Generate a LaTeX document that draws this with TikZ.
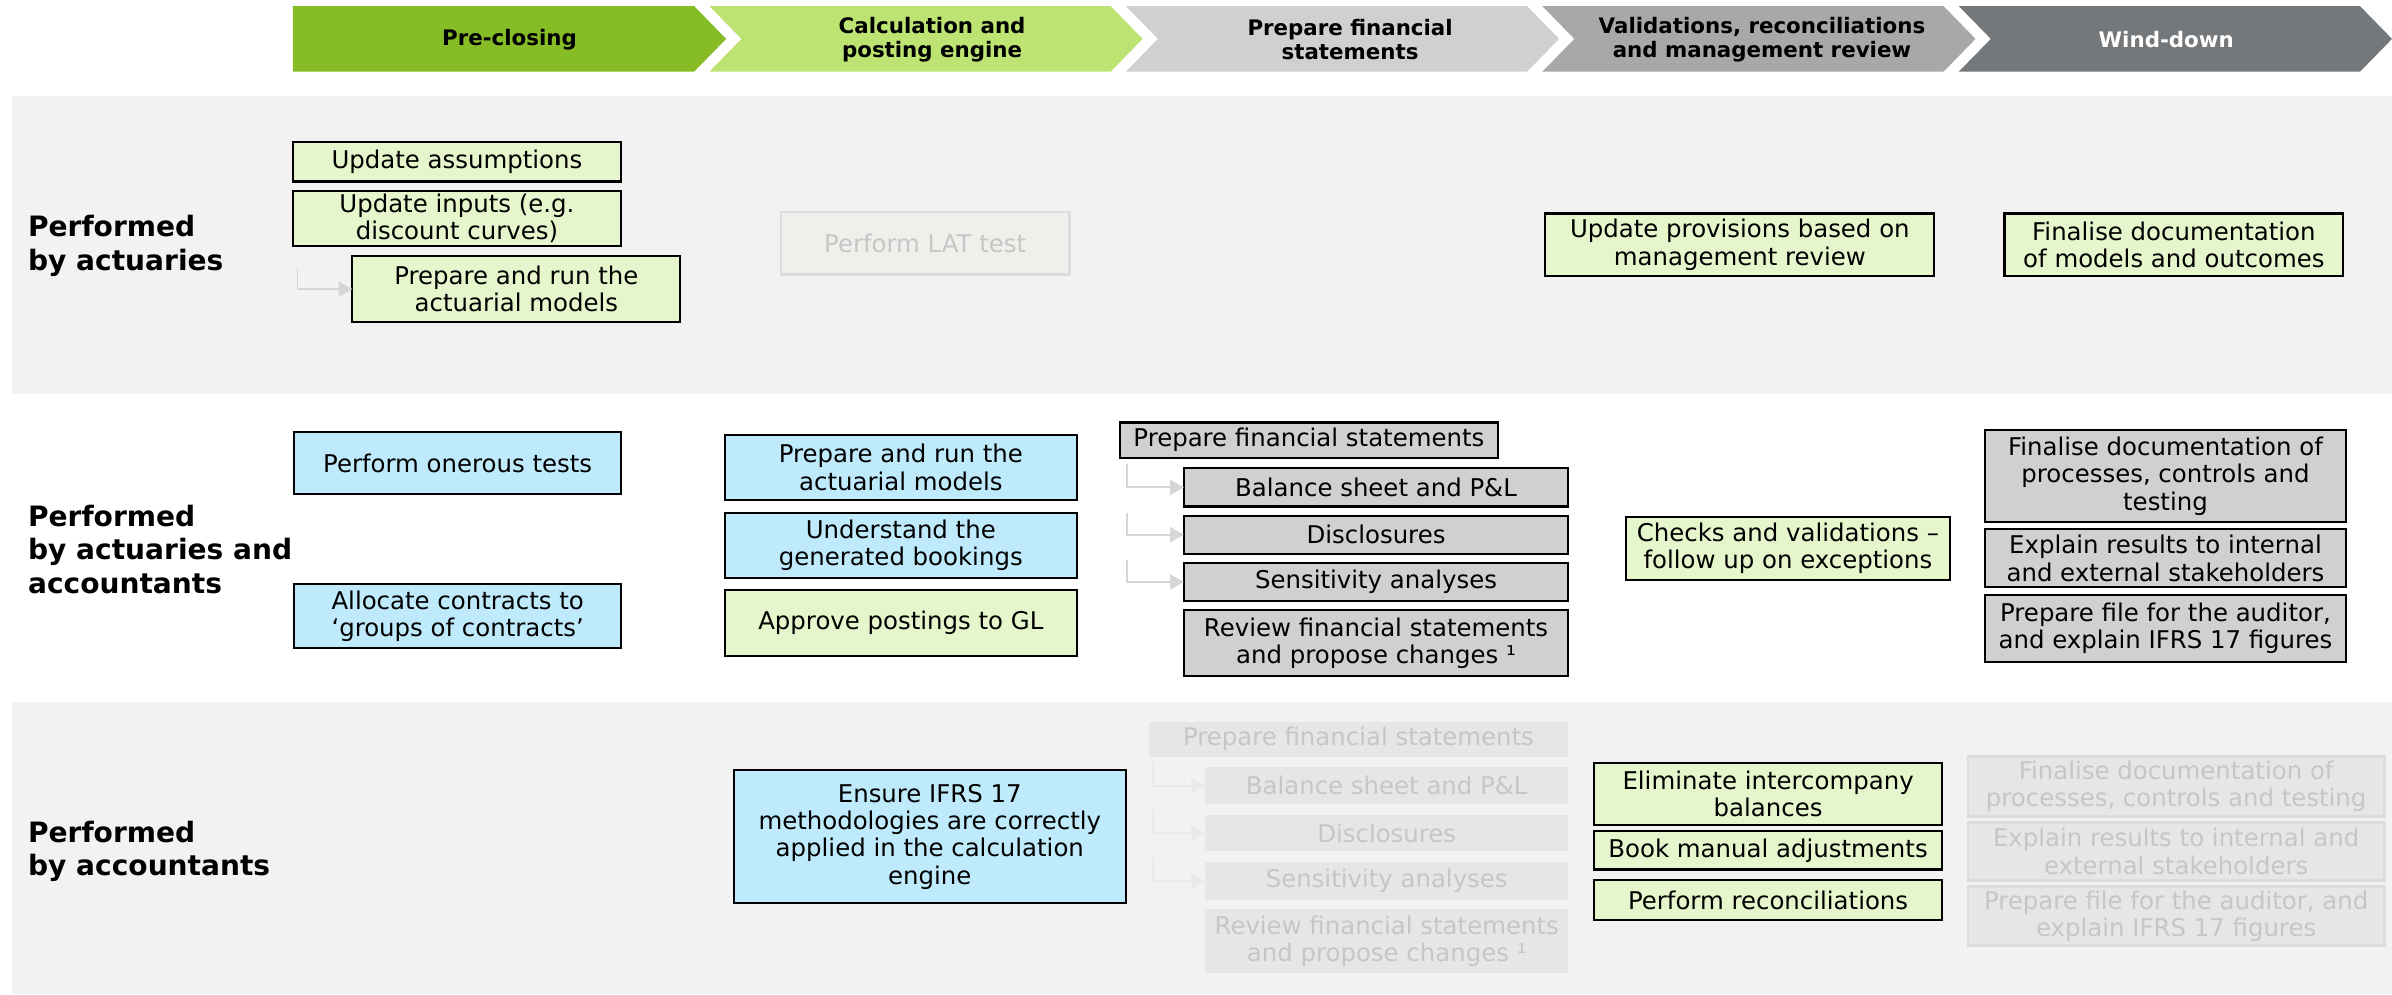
\documentclass[tikz,border=0pt]{standalone}
\usepackage{fontspec}
\setmainfont{DejaVu Sans}
\usetikzlibrary{arrows.meta,calc}
\definecolor{chA}{HTML}{86BC25}
\definecolor{chB}{HTML}{BDE373}
\definecolor{chC}{HTML}{D0D0CE}
\definecolor{chD}{HTML}{A7A8AA}
\definecolor{chE}{HTML}{75787B}
\definecolor{band}{HTML}{F2F2F2}
\definecolor{boxgreen}{HTML}{E5F5CC}
\definecolor{boxblue}{HTML}{BEEAFC}
\definecolor{boxgray}{HTML}{D0D0CE}
\definecolor{fadetext}{HTML}{C6C6C6}
\definecolor{fadefill}{HTML}{E6E6E6}
\definecolor{fadeedge}{HTML}{DCDCDC}
\definecolor{latfill}{HTML}{EFF0EC}
\definecolor{arrA}{HTML}{D6D6D6}
\definecolor{arrB}{HTML}{EAEAEA}
\newcommand\bx[7]{\node[#2, minimum width={(#5-#3)*0.5pt}, minimum height={(#6-#4)*0.5pt}] (#1) at ({(#3+#5)/2},{(#4+#6)/2}) {#7};}
\newcommand\chev[5]{\fill[#2] (#1,4) -- ({#1+263},4) -- ({#1+284},25.5) -- ({#1+263},47) -- (#1,47) #3 -- cycle;
  \node[hdr, text=#4] (#5) at ({#1+145},25.5) {};}
\tikzset{
  base/.style={draw=black, line width=0.7pt, inner sep=0pt, outer sep=0pt, align=center, font=\fontsize{8}{9}\selectfont},
  grn/.style={base, fill=boxgreen},
  blu/.style={base, fill=boxblue},
  gry/.style={base, fill=boxgray},
  fadeA/.style={base, draw=fadeedge, line width=0.9pt, fill=latfill, text=fadetext},
  fadeB/.style={base, draw=none, fill=fadefill, text=fadetext},
  fadeC/.style={base, draw=fadeedge, line width=0.9pt, fill=fadefill, text=fadetext},
  hdr/.style={align=center, inner sep=0pt, font=\fontsize{7}{8}\selectfont\bfseries},
  rowlbl/.style={anchor=west, align=left, inner sep=0pt, font=\fontsize{9.2}{11}\selectfont\bfseries},
  arr/.style={draw=arrA, line width=0.6pt, -{Triangle[length=4.5pt,width=5pt]}},
  arrf/.style={draw=arrB, line width=0.6pt, -{Triangle[length=4.5pt,width=5pt]}},
}
\begin{document}
\begin{tikzpicture}[x=0.5pt,y=-0.5pt]
\useasboundingbox[fill=white] (0,0) rectangle (1568,651.6);
% header chevrons
\fill[chA] (192,4) -- (455,4) -- (476,25.5) -- (455,47) -- (192,47) -- cycle;
\fill[chB] (465,4) -- (728,4) -- (749,25.5) -- (728,47) -- (465,47) -- (486,25.5) -- cycle;
\fill[chC] (738,4) -- (1001,4) -- (1022,25.5) -- (1001,47) -- (738,47) -- (759,25.5) -- cycle;
\fill[chD] (1011,4) -- (1274,4) -- (1295,25.5) -- (1274,47) -- (1011,47) -- (1032,25.5) -- cycle;
\fill[chE] (1284,4) -- (1547,4) -- (1568,25.5) -- (1547,47) -- (1284,47) -- (1305,25.5) -- cycle;
\node[hdr] (h1) at (334,26) {Pre-closing};
\node[hdr] (h2) at (611,26) {Calculation and\\posting engine};
\node[hdr] (h3) at (885,26) {Prepare financial\\statements};
\node[hdr] (h4) at (1155,26) {Validations, reconciliations\\and management review};
\node[hdr, text=white] (h5) at (1420,26) {Wind-down};
% bands
\fill[band] (8,63) rectangle (1568,258);
\fill[band] (8,460) rectangle (1568,651.6);
% row labels
\node[rowlbl] (r1) at (18,161) {Performed\\by actuaries};
\node[rowlbl] (r2) at (18,360) {Performed\\by actuaries and\\accountants};
\node[rowlbl] (r3) at (18,558) {Performed\\by accountants};
% row 1
\bx{ua}{grn}{192}{93}{407}{119}{Update assumptions}
\bx{ui}{grn}{192}{125}{407}{161}{Update inputs (e.g.\\discount curves)}
\bx{pr1}{grn}{231}{168}{446}{211}{Prepare and run the\\actuarial models}
\bx{lat}{fadeA}{512}{139}{701}{180}{Perform LAT test}
\bx{up}{grn}{1013}{140}{1268}{181}{Update provisions based on\\management review}
\bx{fd}{grn}{1314}{140}{1536}{181}{Finalise documentation\\of models and outcomes}
\draw[arr] ($(ui.south west)+(3,15)$) |- (pr1.west);
% row 2
\bx{ot}{blu}{193}{283}{407}{324}{Perform onerous tests}
\bx{ac}{blu}{193}{383}{407}{425}{Allocate contracts to\\‘groups of contracts’}
\bx{pr2}{blu}{475}{285}{706}{328}{Prepare and run the\\actuarial models}
\bx{ug}{blu}{475}{336}{706}{379}{Understand the\\generated bookings}
\bx{ap}{grn}{475}{387}{706}{430}{Approve postings to GL}
\bx{ps}{gry}{734}{277}{982}{300}{Prepare financial statements}
\bx{bs}{gry}{776}{307}{1028}{332}{Balance sheet and P\&L}
\bx{ds}{gry}{776}{338}{1028}{363}{Disclosures}
\bx{sa}{gry}{776}{369}{1028}{394}{Sensitivity analyses}
\bx{rv}{gry}{776}{400}{1028}{443}{Review financial statements\\and propose changes ¹}
\bx{cv}{grn}{1066}{339}{1278}{380}{Checks and validations –\\follow up on exceptions}
\bx{fp}{gry}{1301}{282}{1538}{342}{Finalise documentation of\\processes, controls and\\testing}
\bx{er}{gry}{1301}{347}{1538}{385}{Explain results to internal\\and external stakeholders}
\bx{pf}{gry}{1301}{390}{1538}{434}{Prepare file for the auditor,\\and explain IFRS 17 figures}
\draw[arr] ($(ps.south west)+(5,4)$) |- (bs.west);
\draw[arr] ($(bs.south -| ps.west)+(5,4)$) |- (ds.west);
\draw[arr] ($(ds.south -| ps.west)+(5,4)$) |- (sa.west);
% row 3
\bx{ei}{blu}{481}{505}{738}{592}{Ensure IFRS 17\\methodologies are correctly\\applied in the calculation\\engine}
\bx{psf}{fadeB}{753}{473}{1028}{496}{Prepare financial statements}
\bx{bsf}{fadeB}{790}{503}{1028}{527}{Balance sheet and P\&L}
\bx{dsf}{fadeB}{790}{534}{1028}{558}{Disclosures}
\bx{saf}{fadeB}{790}{565}{1028}{590}{Sensitivity analyses}
\bx{rvf}{fadeB}{790}{596}{1028}{638}{Review financial statements\\and propose changes ¹}
\bx{el}{grn}{1045}{500}{1273}{541}{Eliminate intercompany\\balances}
\bx{bm}{grn}{1045}{545}{1273}{570}{Book manual adjustments}
\bx{rc}{grn}{1045}{577}{1273}{603}{Perform reconciliations}
\bx{fpf}{fadeC}{1290}{496}{1563}{535}{Finalise documentation of\\processes, controls and testing}
\bx{erf}{fadeC}{1290}{539}{1563}{577}{Explain results to internal and\\external stakeholders}
\bx{pff}{fadeC}{1290}{581}{1563}{620}{Prepare file for the auditor, and\\explain IFRS 17 figures}
\draw[arrf] ($(psf.south west)+(3,3)$) |- (bsf.west);
\draw[arrf] ($(bsf.south -| psf.west)+(3,4)$) |- (dsf.west);
\draw[arrf] ($(dsf.south -| psf.west)+(3,4)$) |- (saf.west);
\end{tikzpicture}
\end{document}
